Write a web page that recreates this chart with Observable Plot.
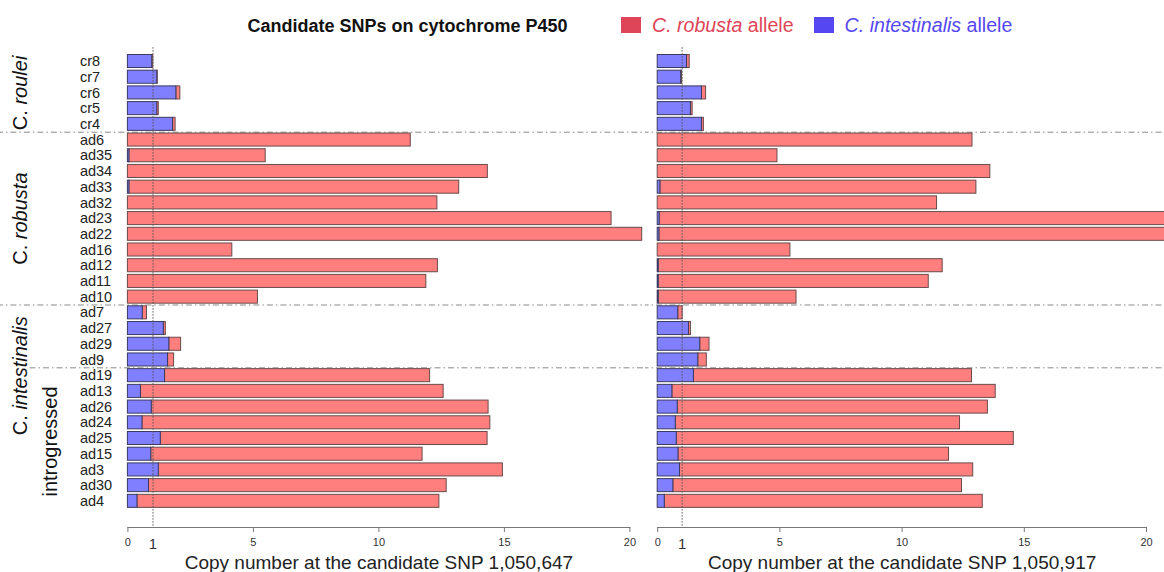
<!DOCTYPE html>
<html>
<head>
<meta charset="utf-8">
<script src="https://cdn.jsdelivr.net/npm/d3@7"></script>
<script src="https://cdn.jsdelivr.net/npm/@observablehq/plot@0.6"></script>
<style>
  body { margin: 0; background: #fff; font-family: "Liberation Sans", Arial, sans-serif; }
  #wrap { position: relative; width: 1164px; height: 572px; overflow: hidden; background: #fff; }
  #title { position: absolute; left: 0; top: 15px; width: 815px; text-align: center; font-weight: bold; font-size: 18px; color: #111; line-height: 22px; }
  #legend { position: absolute; left: 621px; top: 14px; font-size: 19.6px; line-height: 22px; white-space: nowrap; }
  #legend .item { display: inline-block; margin-right: 20px; }
  #legend .sw { display: inline-block; width: 20px; height: 16px; vertical-align: -1px; margin-right: 11px; }
  #left { position: absolute; left: 0; top: 40px; }
  #right { position: absolute; left: 645px; top: 40px; }
</style>
</head>
<body>
<div id="wrap">
  <div id="title"></div>
  <div id="legend"></div>
  <div id="left"></div>
  <div id="right"></div>
</div>
<script>
// ---- data ----
const samples = ["cr8","cr7","cr6","cr5","cr4",
  "ad6","ad35","ad34","ad33","ad32","ad23","ad22","ad16","ad12","ad11","ad10",
  "ad7","ad27","ad29","ad9",
  "ad19","ad13","ad26","ad24","ad25","ad15","ad3","ad30","ad4"];

// copy number of the C. intestinalis allele (blue) and C. robusta allele (red)
const blue647 = [0.97,1.17,1.93,1.17,1.80,
  0,0.06,0,0.06,0,0,0,0,0,0,0,
  0.59,1.43,1.65,1.60,
  1.48,0.52,0.95,0.58,1.31,0.93,1.23,0.84,0.38];
const red647 = [0.04,0.02,0.16,0.06,0.10,
  11.27,5.43,14.34,13.14,12.33,19.27,20.49,4.16,12.35,11.89,5.18,
  0.17,0.08,0.47,0.24,
  10.56,12.06,13.42,13.86,13.02,10.81,13.71,11.86,12.03];

const blue917 = [1.20,0.96,1.81,1.36,1.81,
  0,0,0,0.11,0,0.08,0.07,0,0.04,0.04,0.04,
  0.84,1.28,1.74,1.66,
  1.48,0.60,0.82,0.74,0.78,0.85,0.91,0.64,0.29];
const red917 = [0.11,0.04,0.17,0.07,0.08,
  12.88,4.90,13.61,12.93,11.43,21.6,22.0,5.43,11.62,11.05,5.64,
  0.18,0.08,0.38,0.35,
  11.38,13.23,12.69,11.63,13.79,11.07,12.00,11.81,13.01];

const groupLabels = ["C. roulei","C. robusta","C. intestinalis","introgressed"];
const groupRows = ["cr6","ad23","ad19","ad25"];
const separatorRows = ["ad6","ad7","ad19"];

const xTicks = [0,5,10,15,20];
const titleText = "Candidate SNPs on cytochrome P450";
const legendItems = [
  {species: "C. robusta", rest: " allele", color: "#df4558"},
  {species: "C. intestinalis", rest: " allele", color: "#5548f2"}
];
const xLabels = ["Copy number at the candidate SNP 1,050,647", "Copy number at the candidate SNP 1,050,917"];

// ---- header ----
document.getElementById("title").textContent = titleText;
const leg = d3.select("#legend");
legendItems.forEach(it => {
  const s = leg.append("span").attr("class","item").style("color", it.color);
  s.append("span").attr("class","sw").style("background", it.color);
  s.append("i").text(it.species);
  s.append("span").text(it.rest);
});

const FONT = "Liberation Sans, Arial, sans-serif";
const rowStep = 15.71;

function panel(blue, red, o) {
  const rows = samples.map((s, i) => ({s, b: blue[i], t: blue[i] + red[i]}));
  const marks = [
    Plot.ruleY(separatorRows.slice(0, 2), {y: d => d, dy: -rowStep / 2, x1: o.sepX1, x2: o.sepX2, stroke: "#8a8a8a", strokeWidth: 1, strokeDasharray: "6,3,1.5,3"}),
    Plot.ruleY(separatorRows.slice(2), {y: d => d, dy: -rowStep / 2, x1: o.sepX1b, x2: o.sepX2, stroke: "#8a8a8a", strokeWidth: 1, strokeDasharray: "6,3,1.5,3"}),
    Plot.barX(rows, {filter: d => d.t - d.b > 0, y: "s", x1: "b", x2: "t", fill: "#ff7f7f", stroke: "#6b4a4a", strokeWidth: 1}),
    Plot.barX(rows, {filter: d => d.b > 0, y: "s", x1: 0, x2: "b", fill: "#7f7fff", stroke: "#3a3a60", strokeWidth: 1}),
    Plot.ruleX([1], {stroke: "#555", strokeWidth: 1, strokeDasharray: "1.5,1.5", insetTop: -6}),
    Plot.frame({anchor: "bottom", stroke: "#777"}),
    Plot.axisX({ticks: xTicks, tickSize: 5, tickPadding: 6, fontSize: 11, stroke: "#777", fill: "#333", label: null}),
    Plot.axisX({ticks: [1], tickSize: 0, tickPadding: 11, fontSize: 15, fill: "#333", label: null}),
    Plot.text([o.xLabel], {frameAnchor: "bottom", dy: 41, fontSize: 19, fill: "#222"})
  ];
  if (o.yLabels) {
    marks.push(Plot.text(samples, {y: d => d, text: d => d, frameAnchor: "left", dx: -48, textAnchor: "start", fontSize: 14.5, fill: "#222"}));
    marks.push(Plot.text(groupLabels.slice(0, 3).map((l, i) => ({l, r: groupRows[i]})),
      {y: "r", text: "l", frameAnchor: "left", textAnchor: "middle", dx: -107, rotate: -90, fontSize: 20, fill: "#111"}));
    marks.push(Plot.text([{l: groupLabels[3], r: groupRows[3]}],
      {y: "r", text: "l", frameAnchor: "left", textAnchor: "middle", dx: -77, dy: 3, rotate: -90, fontSize: 20, fill: "#111"}));
  }
  return Plot.plot({
    width: o.width, height: 532,
    marginLeft: o.marginLeft, marginRight: o.marginRight, marginTop: 13.15, marginBottom: 45,
    x: {domain: [0, 20], axis: null},
    y: {domain: samples, type: "band", round: false, paddingInner: 0.17, paddingOuter: 0.085, insetBottom: 18.3, axis: null},
    style: {fontFamily: FONT, background: "transparent", overflow: "hidden"},
    marks
  });
}

const leftPlot = panel(blue647, red647, {width: 645, marginLeft: 127.4, marginRight: 15.6, sepX1: -5.2, sepX1b: -3.9, sepX2: 21, yLabels: true, xLabel: xLabels[0]});
const rightPlot = panel(blue917, red917, {width: 519, marginLeft: 12.2, marginRight: 18, sepX1: -0.6, sepX1b: -0.6, sepX2: 21, yLabels: false, xLabel: xLabels[1]});

// italicise the species part of the group labels
d3.select(leftPlot).selectAll("text").each(function() {
  const t = this.textContent;
  if (t.startsWith("C. ")) {
    const sel = d3.select(this);
    sel.text("");
    sel.append("tspan").text("C. ");
    sel.append("tspan").attr("font-style", "italic").text(t.slice(3));
  }
});

document.getElementById("left").appendChild(leftPlot);
document.getElementById("right").appendChild(rightPlot);
</script>
</body>
</html>
